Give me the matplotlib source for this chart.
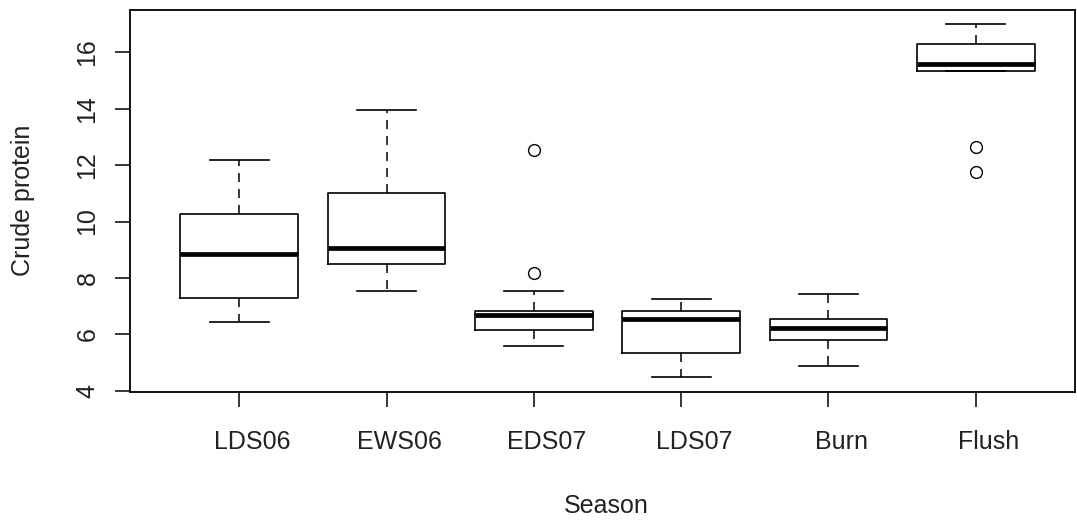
import matplotlib
matplotlib.use("Agg")
import matplotlib.pyplot as plt
from matplotlib.transforms import ScaledTranslation

# Crude protein summary per season (R-style boxplot statistics)
seasons = ["LDS06", "EWS06", "EDS07", "LDS07", "Burn", "Flush"]
whisker_low = [6.44, 7.54, 5.60, 4.49, 4.89, 15.33]
quartile_1 = [7.30, 8.48, 6.14, 5.35, 5.79, 15.33]
medians = [8.85, 9.07, 6.67, 6.54, 6.23, 15.60]
quartile_3 = [10.25, 11.01, 6.83, 6.84, 6.54, 16.30]
whisker_high = [12.17, 13.95, 7.54, 7.24, 7.43, 17.00]
outliers = [[], [], [8.19, 12.52], [], [], [11.77, 12.65]]
y_ticks = [4, 6, 8, 10, 12, 14, 16]

plt.rcParams["font.family"] = ["Liberation Sans", "DejaVu Sans"]
plt.rcParams["lines.scale_dashes"] = False

W, H = 1077, 523
fig = plt.figure(figsize=(W / 100, H / 100), dpi=100)
ax = fig.add_axes([130 / W, 1 - 391.5 / H, 945 / W, 382 / H])

stats = []
for i, name in enumerate(seasons):
    stats.append(dict(label=name, whislo=whisker_low[i], q1=quartile_1[i],
                      med=medians[i], q3=quartile_3[i],
                      whishi=whisker_high[i], fliers=outliers[i]))

positions = list(range(1, len(seasons) + 1))
ax.bxp(stats, positions=positions, widths=0.8, capwidths=0.4,
       boxprops=dict(color="black", linewidth=1.2),
       medianprops=dict(color="black", linewidth=3.4, solid_capstyle="butt"),
       whiskerprops=dict(color="black", linewidth=1.1, linestyle=(0, (6.5, 5))),
       capprops=dict(color="black", linewidth=1.2),
       flierprops=dict(marker="o", markersize=8.5, markerfacecolor="none",
                       markeredgecolor="black", markeredgewidth=1.0,
                       linestyle="none"),
       manage_ticks=False)

ax.set_xlim(0.258, 6.674)
ax.set_ylim(3.97, 17.52)

ax.set_xticks(positions)
ax.set_xticklabels(seasons)
ax.set_yticks(y_ticks)
ax.set_yticklabels([str(v) for v in y_ticks], rotation=90, va="center")

ax.tick_params(axis="both", length=11, width=1.1, color="black",
               labelsize=18, labelcolor="#222222")
ax.tick_params(axis="x", pad=17)
ax.tick_params(axis="y", pad=11)

shift = ScaledTranslation(13 / 100, 0, fig.dpi_scale_trans)
for lab in ax.get_xticklabels():
    lab.set_transform(lab.get_transform() + shift)

for sp in ax.spines.values():
    sp.set_linewidth(1.3)
    sp.set_color("black")

fig.text(23 / W, 1 - 200.5 / H, "Crude protein", rotation=90,
         ha="center", va="center", fontsize=18, color="#222222")
fig.text(606 / W, 1 - 506 / H, "Season", ha="center", va="center",
         fontsize=18, color="#222222")

fig.savefig("out.png", dpi=100, facecolor="white")
